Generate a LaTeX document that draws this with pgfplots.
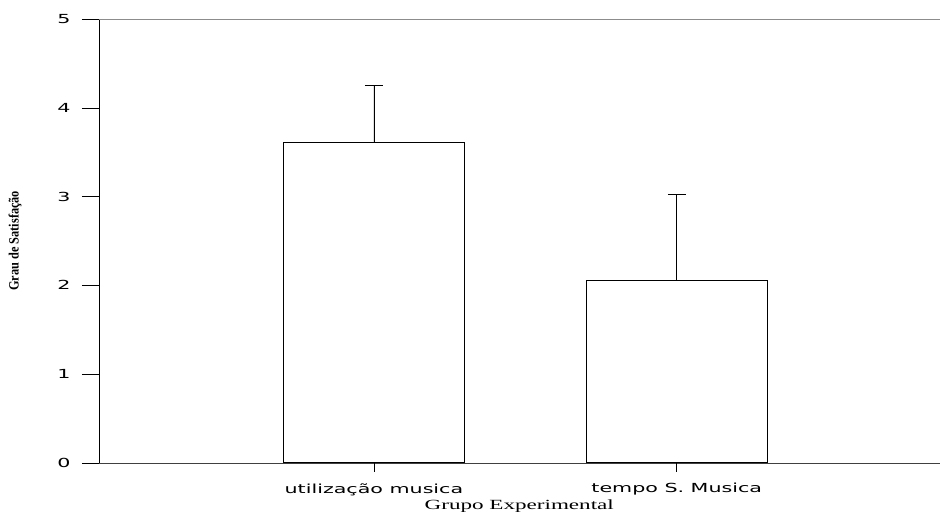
\documentclass[border=0pt]{standalone}
\usepackage{fontspec}
\setmainfont{Liberation Serif}
\newfontfamily\tickfont{DejaVu Sans}
\usepackage{pgfplots}
\pgfplotsset{compat=1.18}
\usepackage{graphicx}
\begin{document}
\begin{tikzpicture}
\begin{axis}[
  name=ax,
  scale only axis,
  width=841pt, height=444pt,
  xmin=0.092, xmax=2.868,
  ymin=0, ymax=5,
  axis y line=left, axis x line=bottom,
  axis line style={-},
  x axis line style={draw=black!75},
  xtick={1,2},
  xticklabels={{\scalebox{1.65}[1]{utilização musica}},{\scalebox{1.65}[1]{tempo S. Musica}}},
  ytick={0,1,2,3,4,5},
  yticklabel={\scalebox{1.65}[1]{\pgfmathprintnumber{\tick}}},
  /pgf/number format/assume math mode=true,
  ticklabel style={font=\tickfont\fontsize{12.5}{14}\selectfont},
  tick align=outside,
  major tick length=17pt,
  xtick style={draw=none},
  ytick style={black},
  yticklabel style={xshift=-8pt},
  xticklabel style={yshift=0pt},
  xlabel={\scalebox{1.65}[1]{\fontsize{14}{14}\selectfont Grupo Experimental}},
  xlabel style={at={(axis description cs:0.5,0)}, anchor=north, yshift=-33pt},
  ylabel={\resizebox{100pt}{10pt}{\bfseries Grau de Satisfação}},
  ylabel style={at={(axis description cs:-0.0999,0.5)}, anchor=center},
  clip=false,
]
\addplot[ybar, bar width=0.6, fill=white, draw=black, line width=0.8pt,
  error bars/.cd, y dir=plus, y explicit,
  error mark options={rotate=90, mark size=9pt, line width=0.8pt, black},
  error bar style={line width=0.8pt, black}]
  coordinates {(1,3.61) +- (0,0.64) (2,2.05) +- (0,0.97)};
\draw[black!45, line width=0.8pt] (rel axis cs:0,1) -- (rel axis cs:1,1);
\draw[black, line width=0.8pt] (axis cs:1,0) -- ([yshift=-9pt]axis cs:1,0);
\draw[black, line width=0.8pt] (axis cs:2,0) -- ([yshift=-9pt]axis cs:2,0);
\end{axis}
\path (ax.south west) ++(-99pt,-46pt) rectangle ++(940pt,509pt);
\end{tikzpicture}
\end{document}
